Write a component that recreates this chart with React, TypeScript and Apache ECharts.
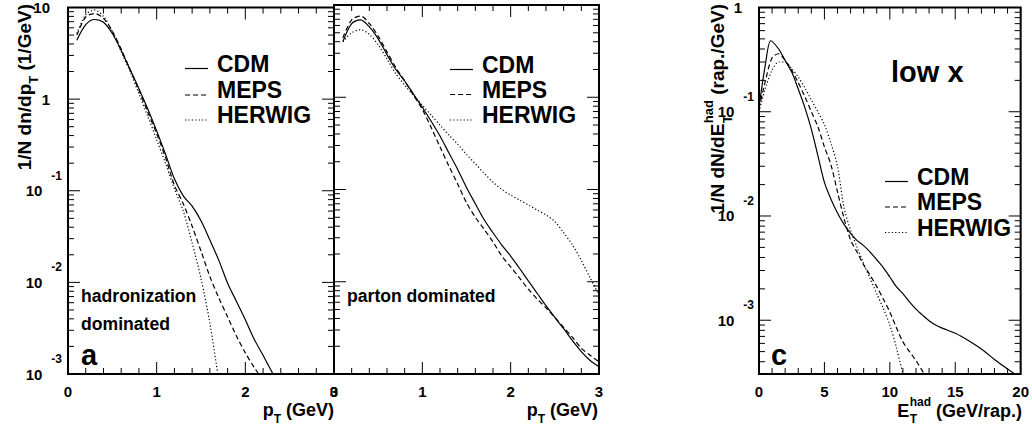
import React, { useEffect, useRef } from 'react';
import * as echarts from 'echarts';

const FONT = '"Liberation Sans", Arial, Helvetica, sans-serif';

// ---------- Panel a : hadronization dominated ----------
const ptA = [0.1, 0.2, 0.3, 0.4, 0.5, 0.6, 0.7, 0.8, 0.9, 1.0, 1.1, 1.2, 1.3, 1.4, 1.5, 1.6, 1.7, 1.8, 1.9, 2.0, 2.1, 2.2, 2.3, 2.4];
const cdmA = [4.4, 6.5, 7.4, 6.9, 5.2, 3.4, 2.1, 1.3, 0.78, 0.45, 0.25, 0.135, 0.088, 0.068, 0.047, 0.029, 0.0175, 0.0098, 0.0062, 0.0039, 0.0024, 0.0016, 0.00105, 0.00068];
const mepsA = [5.0, 7.9, 8.6, 7.6, 5.5, 3.5, 2.1, 1.25, 0.72, 0.42, 0.23, 0.115, 0.072, 0.041, 0.022, 0.0116, 0.0068, 0.0042, 0.0026, 0.0017, 0.00118, 0.00085, 0.0006, 0.0004];
const ptAHerwig = [0.1, 0.2, 0.3, 0.4, 0.5, 0.6, 0.7, 0.8, 0.9, 1.0, 1.1, 1.2, 1.3, 1.4, 1.5, 1.6, 1.7, 1.8];
const herwigA = [5.2, 8.3, 9.4, 8.0, 5.5, 3.3, 2.0, 1.15, 0.65, 0.36, 0.2, 0.105, 0.06, 0.027, 0.011, 0.0036, 0.00085, 0.0002];

// ---------- Panel b : parton dominated ----------
const ptB = [0.1, 0.2, 0.3, 0.4, 0.5, 0.6, 0.7, 0.8, 0.9, 1.0, 1.1, 1.2, 1.3, 1.4, 1.5, 1.6, 1.7, 1.8, 1.9, 2.0, 2.1, 2.2, 2.3, 2.4, 2.5, 2.6, 2.7, 2.8, 2.9, 3.0];
const cdmB = [4.0, 6.3, 6.9, 5.8, 4.3, 2.9, 2.0, 1.5, 1.08, 0.78, 0.55, 0.38, 0.25, 0.165, 0.105, 0.07, 0.047, 0.034, 0.025, 0.019, 0.014, 0.0102, 0.0075, 0.0055, 0.0041, 0.0031, 0.0023, 0.00175, 0.0014, 0.0012];
const mepsB = [4.4, 6.9, 7.6, 6.3, 4.6, 3.1, 2.1, 1.5, 1.05, 0.74, 0.47, 0.29, 0.18, 0.115, 0.072, 0.05, 0.037, 0.027, 0.019, 0.0145, 0.011, 0.0083, 0.0065, 0.0052, 0.0041, 0.0032, 0.0025, 0.0019, 0.0016, 0.00135];
const herwigB = [4.0, 5.0, 5.4, 4.8, 3.7, 2.6, 1.8, 1.35, 1.05, 0.82, 0.64, 0.5, 0.39, 0.31, 0.24, 0.19, 0.15, 0.12, 0.1, 0.087, 0.077, 0.068, 0.06, 0.053, 0.045, 0.034, 0.025, 0.017, 0.011, 0.0072];

// ---------- Panel c : low x, E_T^had ----------
const etCdm = [0, 0.5, 0.9, 1.5, 2, 2.5, 3, 3.5, 4, 4.5, 5, 5.5, 6, 6.5, 7, 7.5, 8, 8.5, 9, 9.5, 10, 10.5, 11, 11.5, 12, 12.5, 13, 13.5, 14, 15, 16, 17, 18, 19, 20];
const cdmC = [0.11, 0.29, 0.48, 0.4, 0.31, 0.24, 0.165, 0.11, 0.068, 0.038, 0.021, 0.0145, 0.0107, 0.0083, 0.0068, 0.0058, 0.0052, 0.0045, 0.0038, 0.0032, 0.0026, 0.0021, 0.0018, 0.0015, 0.00128, 0.00112, 0.00099, 0.0009, 0.00084, 0.00075, 0.00064, 0.00053, 0.00042, 0.00034, 0.00028];
const etMeps = [0, 0.5, 1, 1.5, 2, 2.5, 3, 3.5, 4, 4.5, 5, 5.5, 6, 6.5, 7, 7.5, 8, 8.5, 9, 9.5, 10, 10.5, 11, 11.5, 12, 12.6, 13];
const mepsC = [0.108, 0.2, 0.33, 0.36, 0.31, 0.25, 0.19, 0.14, 0.1, 0.072, 0.046, 0.031, 0.017, 0.0095, 0.0059, 0.0045, 0.0034, 0.0027, 0.0021, 0.0016, 0.0012, 0.00085, 0.00062, 0.0005, 0.00041, 0.00031, 0.00026];
const etHerwig = [0, 0.5, 1, 1.5, 2, 2.5, 3, 3.5, 4, 4.5, 5, 5.5, 6, 6.5, 7, 7.5, 8, 8.5, 9, 9.5, 10, 10.5, 11, 11.5];
const herwigC = [0.1, 0.17, 0.25, 0.3, 0.3, 0.26, 0.215, 0.17, 0.13, 0.1, 0.075, 0.05, 0.03, 0.012, 0.0073, 0.005, 0.0035, 0.0025, 0.0018, 0.0013, 0.0009, 0.00055, 0.00031, 0.0002];

// ---------- axes / ticks ----------
const seriesNames = ['CDM', 'MEPS', 'HERWIG'];
const ptMajor = [0, 1, 2, 3];
const ptMinorStep = 0.2;
const etMajor = [0, 5, 10, 15, 20];
const etMinorStep = 1;
const yDecadesAB = [0.001, 0.01, 0.1, 1, 10];
const yDecadesC = [0.001, 0.01, 0.1, 1];
const minorFactors = [2, 3, 4, 5, 6, 7, 8, 9];
const yMinAB = 0.001;
const yMaxAB = 10;
const yMinC = 0.000305;
const yMaxC = 1;

const dashOf: Record<string, any> = {
  CDM: 'solid',
  MEPS: [5, 3],
  HERWIG: [1.2, 2.2],
};

const zip = (xs: number[], ys: number[]) => xs.map((x, i) => [x, ys[i]]);

function measure(text: string, size: number) {
  const c = document.createElement('canvas').getContext('2d')!;
  c.font = `bold ${size}px ${FONT}`;
  return c.measureText(text).width;
}

function yLabel(v: number) {
  const l = Math.log10(v);
  const e = Math.round(l);
  if (Math.abs(l - e) > 1e-6) return '';
  if (e === 0) return '{n|1}{p| }';
  if (e === 1) return '{n|10}{p| }';
  return `{n|10}{s|${e}}`;
}

const yRich = {
  n: { fontSize: 15, fontWeight: 'bold', fontFamily: FONT, color: '#000', lineHeight: 16 },
  s: { fontSize: 12, fontWeight: 'bold', fontFamily: FONT, color: '#000', lineHeight: 12, padding: [0, 0, 30, 9] },
  p: { width: 12, fontSize: 15 },
};

function buildTicks(xMajor: number[], xStep: number, xMax: number, yMajor: number[], yMin: number, yMax: number, xRef: number, yRef: number) {
  const data: number[][] = [];
  for (const v of xMajor) data.push([v, yRef, 1, 0]);
  const n = Math.round(xMax / xStep);
  for (let i = 0; i <= n; i++) {
    const v = +(i * xStep).toFixed(6);
    if (!xMajor.some((m) => Math.abs(m - v) < 1e-9)) data.push([v, yRef, 0, 0]);
  }
  for (const v of yMajor) data.push([xRef, v, 1, 1]);
  for (let e = -4; e <= 1; e++) {
    for (const f of minorFactors) {
      const v = f * Math.pow(10, e);
      if (v > yMin && v < yMax) data.push([xRef, v, 0, 1]);
    }
  }
  return data;
}

function tickSeries(idx: number, data: number[][]) {
  return {
    type: 'custom',
    xAxisIndex: idx,
    yAxisIndex: idx,
    silent: true,
    clip: false,
    encode: { x: 0, y: 1 },
    data,
    z: 5,
    renderItem: (params: any, api: any) => {
      const cs = params.coordSys;
      const major = api.value(2);
      const isY = api.value(3);
      const p = api.coord([api.value(0), api.value(1)]);
      const len = major ? 12 : 6;
      const st = { stroke: '#000', lineWidth: 1 };
      if (isY) {
        return {
          type: 'group',
          children: [
            { type: 'line', shape: { x1: cs.x, y1: p[1], x2: cs.x + len, y2: p[1] }, style: st },
            { type: 'line', shape: { x1: cs.x + cs.width - len, y1: p[1], x2: cs.x + cs.width, y2: p[1] }, style: st },
          ],
        };
      }
      return {
        type: 'group',
        children: [
          { type: 'line', shape: { x1: p[0], y1: cs.y + cs.height, x2: p[0], y2: cs.y + cs.height - len }, style: st },
          { type: 'line', shape: { x1: p[0], y1: cs.y, x2: p[0], y2: cs.y + len }, style: st },
        ],
      };
    },
  };
}

function lineSeries(name: string, idx: number, data: number[][]) {
  return {
    type: 'line',
    name,
    xAxisIndex: idx,
    yAxisIndex: idx,
    data,
    symbol: 'none',
    showSymbol: false,
    smooth: 0.3,
    clip: true,
    silent: true,
    lineStyle: { color: '#000', width: 1.2, type: dashOf[name] },
    z: 3,
  };
}

function txt(text: string, x: number, y: number, size: number, align = 'left', extra: any = {}) {
  return {
    type: 'text',
    x,
    y,
    silent: true,
    style: {
      text,
      fill: '#000',
      fontSize: size,
      fontWeight: 'bold',
      fontFamily: FONT,
      align,
      verticalAlign: 'middle',
      ...extra,
    },
  };
}

function legendBlock(x1: number, x2: number, tx: number, ys: number[]) {
  const els: any[] = [];
  seriesNames.forEach((name, i) => {
    const dash = dashOf[name];
    els.push({
      type: 'line',
      silent: true,
      shape: { x1, y1: ys[i] + 5, x2, y2: ys[i] + 5 },
      style: { stroke: '#000', lineWidth: 1.2, lineDash: dash === 'solid' ? null : dash },
    });
    els.push(txt(name, tx, ys[i], 23));
  });
  return els;
}

function buildOption() {
  const grids = [
    { left: 68, top: 5, width: 266, height: 369 },
    { left: 334, top: 5, width: 265, height: 369 },
    { left: 759, top: 6, width: 264, height: 368 },
  ].map((g) => ({ ...g, show: true, borderColor: '#000', borderWidth: 2, backgroundColor: 'transparent', containLabel: false }));

  const xLabel = { fontSize: 15, fontWeight: 'bold', fontFamily: FONT, color: '#000', margin: 10 };
  const xAxes = [
    { gridIndex: 0, type: 'value', min: 0, max: 3, interval: 1 },
    { gridIndex: 1, type: 'value', min: 0, max: 3, interval: 1 },
    { gridIndex: 2, type: 'value', min: 0, max: 20, interval: 5 },
  ].map((a) => ({
    ...a,
    axisLine: { show: false },
    axisTick: { show: false },
    splitLine: { show: false },
    axisLabel: xLabel,
  }));

  const yAxes = [
    { gridIndex: 0, type: 'log', logBase: 10, min: yMinAB, max: yMaxAB, axisLabel: { formatter: yLabel, rich: yRich, margin: 6 } },
    { gridIndex: 1, type: 'log', logBase: 10, min: yMinAB, max: yMaxAB, axisLabel: { show: false } },
    { gridIndex: 2, type: 'log', logBase: 10, min: yMinC, max: yMaxC, axisLabel: { formatter: yLabel, rich: yRich, margin: 5 } },
  ].map((a) => ({
    ...a,
    axisLine: { show: false },
    axisTick: { show: false },
    splitLine: { show: false },
    minorTick: { show: false },
  }));

  const series: any[] = [
    lineSeries('CDM', 0, zip(ptA, cdmA)),
    lineSeries('MEPS', 0, zip(ptA, mepsA)),
    lineSeries('HERWIG', 0, zip(ptAHerwig, herwigA)),
    lineSeries('CDM', 1, zip(ptB, cdmB)),
    lineSeries('MEPS', 1, zip(ptB, mepsB)),
    lineSeries('HERWIG', 1, zip(ptB, herwigB)),
    lineSeries('CDM', 2, zip(etCdm, cdmC)),
    lineSeries('MEPS', 2, zip(etMeps, mepsC)),
    lineSeries('HERWIG', 2, zip(etHerwig, herwigC)),
    tickSeries(0, buildTicks(ptMajor, ptMinorStep, 3, yDecadesAB, yMinAB, yMaxAB, 1, 1)),
    tickSeries(1, buildTicks(ptMajor, ptMinorStep, 3, yDecadesAB, yMinAB, yMaxAB, 1, 1)),
    tickSeries(2, buildTicks(etMajor, etMinorStep, 20, yDecadesC, yMinC, yMaxC, 1, 0.1)),
  ];

  // ---- axis titles ----
  const mainFs = 18;
  const subRich = {
    sub: { fontSize: 12, fontWeight: 'bold', fontFamily: FONT, color: '#000', padding: [17, 0, 0, 0] },
  };
  const graphics: any[] = [];
  graphics.push(txt('p{sub|T} (GeV)', 334, 410, mainFs, 'right', { rich: subRich }));
  graphics.push(txt('p{sub|T} (GeV)', 598, 410, mainFs, 'right', { rich: subRich }));

  // E_T^had (GeV/rap.)
  const tail = ' (GeV/rap.)';
  const wTail = measure(tail, mainFs);
  const wHad = measure('had', 12);
  const R = 1022;
  const sx = R - wTail - wHad;
  graphics.push(txt(tail, R, 411, mainFs, 'right'));
  graphics.push(txt('had', sx, 402, 12, 'left'));
  graphics.push(txt('T', sx, 419, 12, 'left'));
  graphics.push(txt('E', sx - 0.5, 411, mainFs, 'right'));

  // y titles
  const yFs = 19;
  graphics.push({
    type: 'text',
    x: 24,
    y: 4,
    rotation: Math.PI / 2,
    silent: true,
    style: {
      text: '1/N dn/dp{sub|T} (1/GeV)',
      fill: '#000',
      fontSize: yFs,
      fontWeight: 'bold',
      fontFamily: FONT,
      align: 'right',
      verticalAlign: 'middle',
      rich: { sub: { fontSize: 13, fontWeight: 'bold', fontFamily: FONT, color: '#000', padding: [18, 0, 0, 0] } },
    },
  });
  const yTail = ' (rap./GeV)';
  const wYTail = measure(yTail, yFs);
  const wYHad = measure('had', 13);
  const lx = -wYTail - wYHad;
  graphics.push({
    type: 'group',
    x: 717,
    y: 4,
    rotation: Math.PI / 2,
    silent: true,
    children: [
      txt(yTail, 0, 0, yFs, 'right'),
      txt('had', lx, -9, 13, 'left'),
      txt('T', lx, 10, 13, 'left'),
      txt('1/N dN/dE', lx - 0.5, 0, yFs, 'right'),
    ],
  });

  // legends
  graphics.push(...legendBlock(185, 208, 217, [63.5, 90, 115]));
  graphics.push(...legendBlock(450, 473, 482, [64.5, 89.5, 115]));
  graphics.push(...legendBlock(885, 908, 917, [176.5, 202, 227.5]));

  // annotations
  graphics.push(txt('hadronization', 81, 296, 17.6));
  graphics.push(txt('dominated', 81, 324, 17.6));
  graphics.push(txt('a', 81, 355, 29));
  graphics.push(txt('parton dominated', 347, 296, 17.6));
  graphics.push(txt('low x', 891, 72, 29));
  graphics.push(txt('c', 771, 355, 29));

  return {
    animation: false,
    backgroundColor: '#fff',
    grid: grids,
    xAxis: xAxes,
    yAxis: yAxes,
    series,
    graphic: { elements: graphics },
  };
}

export default function App() {
  const ref = useRef<HTMLDivElement>(null);
  useEffect(() => {
    document.body.style.margin = '0';
    const chart = echarts.init(ref.current!, undefined, { renderer: 'svg' });
    chart.setOption(buildOption() as any);
    return () => chart.dispose();
  }, []);
  return <div ref={ref} style={{ width: 1032, height: 427 }} />;
}
